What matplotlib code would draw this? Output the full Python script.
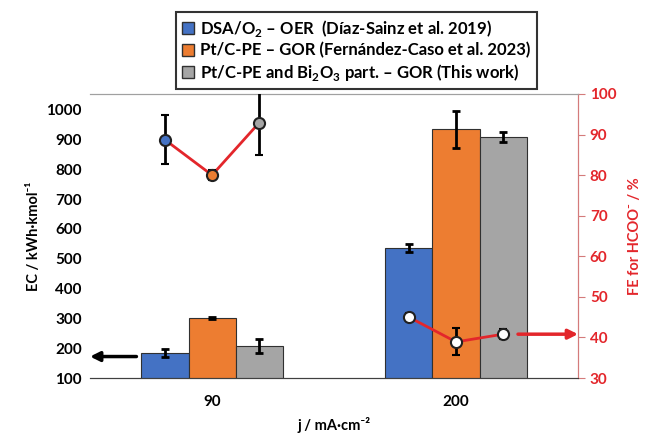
import matplotlib.pyplot as plt
from matplotlib.patches import Patch

# data
groups = ['90', '200']
series = ['DSA/O$_\\mathbf{2}$ – OER  (Díaz-Sainz et al. 2019)',
          'Pt/C-PE – GOR (Fernández-Caso et al. 2023)',
          'Pt/C-PE and Bi$_\\mathbf{2}$O$_\\mathbf{3}$ part. – GOR (This work)']
colors = ['#4472C4', '#ED7D31', '#A5A5A5']

ec_vals = [[185, 535], [300, 935], [208, 910]]
ec_err = [[13, 13], [3, 62], [23, 17]]
fe_vals = [[88.7, 45.0], [80.0, 38.9], [92.9, 40.8]]
fe_err = [[6.0, 1.0], [1.2, 3.3], [8.0, 1.2]]

red = '#e3262b'


def main():
    plt.rcParams['font.family'] = ['Lato', 'DejaVu Sans']
    plt.rcParams['font.weight'] = 'bold'
    plt.rcParams['mathtext.fontset'] = 'custom'
    plt.rcParams['mathtext.bf'] = 'Lato:bold'
    plt.rcParams['mathtext.rm'] = 'Lato:bold'

    fig = plt.figure(figsize=(6.48, 4.37), dpi=100)
    ax = fig.add_axes([0.139, 0.135, 0.753, 0.65])
    ax2 = ax.twinx()

    width = 0.193
    x = [0, 1]
    for i in range(3):
        xs = [g + (i - 1) * width for g in x]
        ax.bar(xs, ec_vals[i], width, color=colors[i], edgecolor='#303030',
               linewidth=0.8, zorder=2)
        ax.errorbar(xs, ec_vals[i], yerr=ec_err[i], fmt='none', ecolor='black',
                    elinewidth=2, capsize=3, capthick=2, zorder=3)

    # FE line and points on right axis
    for g in range(2):
        xs = [x[g] + (i - 1) * width for i in range(3)]
        ys = [fe_vals[i][g] for i in range(3)]
        ax2.plot(xs, ys, color=red, lw=2, zorder=2)
        for i in range(3):
            face = colors[i] if g == 0 else 'white'
            ax2.errorbar(xs[i], ys[i], yerr=fe_err[i][g], fmt='o', ms=8,
                         mfc=face, mec='#202020', mew=1.5, ecolor='black',
                         elinewidth=2, capsize=3, capthick=2, zorder=3)

    ax.set_xlim(-0.5, 1.5)
    ax.set_ylim(100, 1053)
    ax.set_yticks(range(100, 1001, 100))
    ax.set_xticks(x)
    ax.set_xticklabels(groups)
    ax.tick_params(axis='y', length=0, labelsize=11, pad=6)
    ax.tick_params(axis='x', length=0, labelsize=11, pad=12)
    ax.set_ylabel('EC / kWh·kmol⁻¹', fontsize=10.5, fontweight='bold')
    ax.set_xlabel('j / mA·cm⁻²', fontsize=10.5, fontweight='bold', labelpad=6)

    ax2.set_ylim(30, 100)
    ax2.set_yticks(range(30, 101, 10))
    ax2.tick_params(axis='y', colors='#d47b7b', labelcolor=red, labelsize=11,
                    length=5, direction='out')
    ax2.set_ylabel('FE for HCOO⁻ / %', fontsize=10.5, fontweight='bold',
                   color=red, labelpad=8)

    for a in (ax, ax2):
        a.spines['left'].set_visible(False)
        a.spines['top'].set_color('#a0a0a0')
        a.spines['bottom'].set_color('#404040')
        a.spines['right'].set_color('#d47b7b')

    # arrows
    ax.annotate('', xy=(-0.5, 172), xytext=(-0.31, 172),
                arrowprops=dict(arrowstyle='-|>', color='black', lw=2.5,
                                shrinkA=0, shrinkB=0, mutation_scale=14),
                annotation_clip=False)
    ax2.annotate('', xy=(1.5, 40.8), xytext=(1.254, 40.8),
                 arrowprops=dict(arrowstyle='-|>', color=red, lw=2.5,
                                 shrinkA=0, shrinkB=0, mutation_scale=14),
                 annotation_clip=False)

    handles = [Patch(facecolor=colors[i], edgecolor='#303030') for i in range(3)]
    leg = fig.legend(handles, series, loc='upper left',
                     bbox_to_anchor=(0.272, 0.972), fontsize=12,
                     frameon=True, fancybox=False, handlelength=0.7,
                     handleheight=0.7, handletextpad=0.4, labelspacing=0.2,
                     borderpad=0.35, borderaxespad=0)
    leg.get_frame().set_edgecolor('black')
    leg.get_frame().set_linewidth(1.5)

    plt.savefig('out.png', dpi=100)
    plt.close()


if __name__ == '__main__':
    main()
